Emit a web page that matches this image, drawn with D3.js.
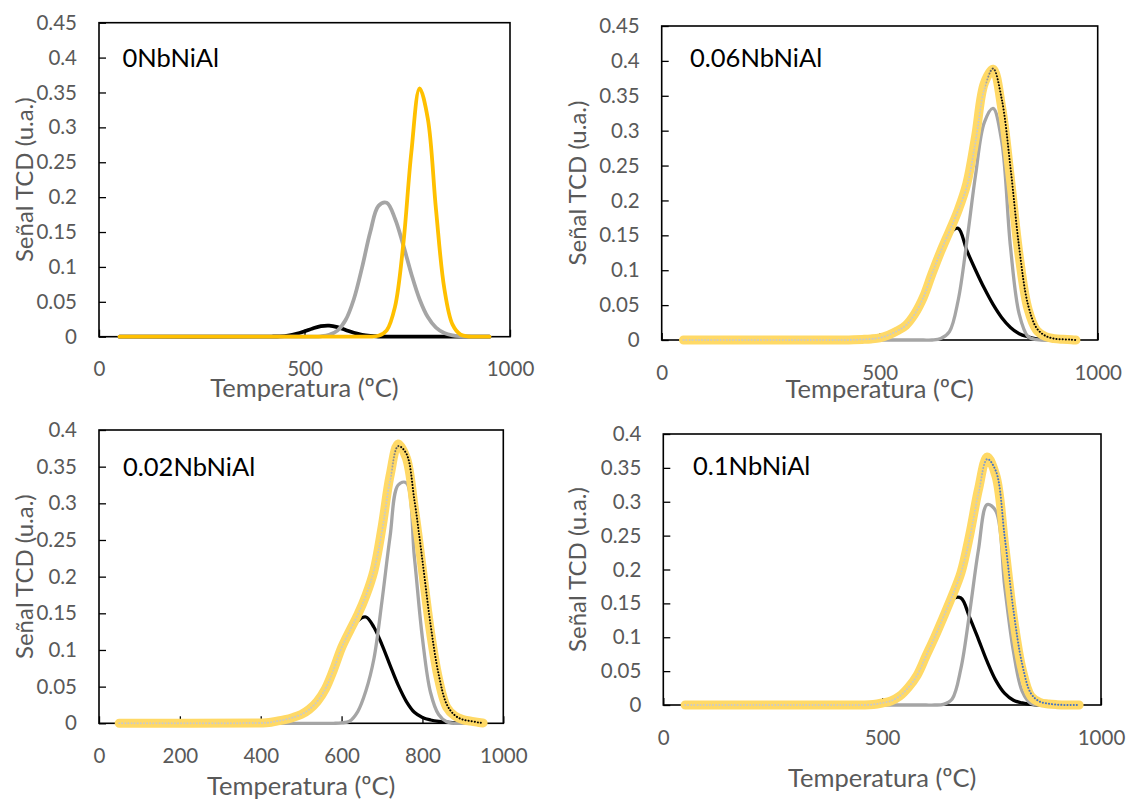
<!DOCTYPE html>
<html>
<head>
<meta charset="utf-8">
<script src="https://cdn.jsdelivr.net/npm/d3@7/dist/d3.min.js"></script>
<style>
  html, body { margin: 0; padding: 0; background: #ffffff; }
  svg { display: block; }
  text { font-family: Lato, "Open Sans", sans-serif; }
</style>
</head>
<body>
<svg id="chart" width="1127" height="800"></svg>
<script>
// Shared temperature grid (ºC)
const temperature = [50, 400, 420, 440, 460, 480, 500, 520, 540, 560, 580, 600, 620, 640, 660, 680,
                     700, 720, 740, 760, 780, 800, 820, 840, 860, 880, 900, 920, 940, 950];

// 0NbNiAl – deconvoluted TPR peaks
const nb0Black = [0, 0, 0.0002, 0.0006, 0.0017, 0.0040, 0.0076, 0.0118, 0.0151, 0.0159, 0.0137, 0.0097, 0.0056, 0.0027, 0.0011, 0.0003,
                  0, 0, 0, 0, 0, 0, 0, 0, 0, 0, 0, 0, 0, 0];
const nb0Gray  = [0, 0, 0, 0, 0, 0, 0, 0.0001, 0.0006, 0.0026, 0.0087, 0.0239, 0.0537, 0.0990, 0.1499, 0.1875,
                  0.1920, 0.1695, 0.1319, 0.0899, 0.0537, 0.0281, 0.0129, 0.0052, 0.0018, 0.0006, 0.0002, 0, 0, 0];
const nb0Gold  = [0, 0, 0, 0, 0, 0, 0, 0, 0, 0, 0, 0, 0, 0, 0.0001, 0.0013,
                  0.0091, 0.0424, 0.1304, 0.2645, 0.3560, 0.3125, 0.1819, 0.0698, 0.0177, 0.0030, 0.0003, 0, 0, 0];

// 0.06NbNiAl
const nb006Black = [0, 0, 0, 0.0002, 0.0005, 0.0012, 0.003, 0.007, 0.013, 0.021, 0.037, 0.061, 0.095, 0.126, 0.152, 0.160,
                    0.128, 0.100, 0.074, 0.051, 0.032, 0.018, 0.009, 0.0045, 0.0015, 0.0004, 0, 0, 0, 0];
const nb006Gray  = [0, 0, 0, 0, 0, 0, 0, 0, 0, 0, 0, 0, 0, 0.002, 0.012, 0.057,
                    0.142, 0.237, 0.312, 0.332, 0.284, 0.133, 0.037, 0.005, 0.0005, 0, 0, 0, 0, 0];
const nb006Sum   = [0, 0, 0, 0.0003, 0.0008, 0.0015, 0.003, 0.007, 0.013, 0.021, 0.037, 0.061, 0.095, 0.127, 0.156, 0.186,
                    0.2245, 0.292, 0.368, 0.388, 0.332, 0.230, 0.120, 0.045, 0.014, 0.005, 0.002, 0.001, 0.0005, 0];
const nb006Exp   = [0, 0, 0, 0.0003, 0.0008, 0.0015, 0.003, 0.007, 0.013, 0.021, 0.037, 0.061, 0.095, 0.127, 0.156, 0.186,
                    0.220, 0.285, 0.360, 0.389, 0.345, 0.247, 0.132, 0.051, 0.017, 0.006, 0.002, 0.001, 0.0005, 0];

// 0.02NbNiAl
const nb002Black = [0, 0.0005, 0.001, 0.003, 0.005, 0.008, 0.012, 0.019, 0.030, 0.047, 0.073, 0.102, 0.124, 0.140, 0.145, 0.131,
                    0.107, 0.079, 0.052, 0.030, 0.015, 0.008, 0.0045, 0.0025, 0.0015, 0.0005, 0, 0, 0, 0];
const nb002Gray  = [0, 0, 0, 0, 0, 0, 0, 0, 0, 0, 0, 0.0005, 0.003, 0.016, 0.044, 0.088,
                    0.167, 0.255, 0.325, 0.328, 0.227, 0.116, 0.042, 0.012, 0.002, 0, 0, 0, 0, 0];
const nb002Sum   = [0, 0.0005, 0.001, 0.003, 0.005, 0.008, 0.012, 0.019, 0.030, 0.047, 0.073, 0.103, 0.126, 0.148, 0.174, 0.208,
                    0.267, 0.338, 0.381, 0.362, 0.293, 0.209, 0.124, 0.060, 0.022, 0.010, 0.005, 0.003, 0.001, 0.0005];
const nb002Exp   = [0, 0.0005, 0.001, 0.003, 0.005, 0.008, 0.012, 0.019, 0.030, 0.047, 0.073, 0.103, 0.126, 0.148, 0.174, 0.208,
                    0.262, 0.332, 0.378, 0.368, 0.305, 0.222, 0.135, 0.067, 0.026, 0.011, 0.005, 0.003, 0.001, 0.0005];

// 0.1NbNiAl
const nb01Black = [0, 0, 0, 0, 0, 0.0008, 0.003, 0.006, 0.013, 0.026, 0.044, 0.072, 0.100, 0.129, 0.156, 0.158,
                   0.129, 0.097, 0.064, 0.036, 0.017, 0.007, 0.003, 0.001, 0, 0, 0, 0, 0, 0];
const nb01Gray  = [0, 0, 0, 0, 0, 0, 0, 0, 0, 0, 0, 0, 0, 0.001, 0.009, 0.054,
                   0.137, 0.229, 0.296, 0.286, 0.175, 0.079, 0.020, 0.002, 0, 0, 0, 0, 0, 0];
const nb01Sum   = [0, 0, 0, 0, 0, 0.0008, 0.003, 0.006, 0.013, 0.026, 0.044, 0.072, 0.100, 0.130, 0.161, 0.195,
                   0.251, 0.318, 0.366, 0.338, 0.235, 0.128, 0.052, 0.013, 0.004, 0.0015, 0.0005, 0, 0, 0];
const nb01Exp   = [0, 0, 0, 0, 0, 0.0008, 0.003, 0.006, 0.013, 0.026, 0.044, 0.072, 0.100, 0.130, 0.161, 0.195,
                   0.246, 0.313, 0.363, 0.345, 0.248, 0.140, 0.060, 0.017, 0.005, 0.002, 0.0006, 0, 0, 0];

// Axis ticks
const xTicksCoarse = [0, 500, 1000];
const xTicksFine   = [0, 200, 400, 600, 800, 1000];
const yTicks045    = [0, 0.05, 0.1, 0.15, 0.2, 0.25, 0.3, 0.35, 0.4, 0.45];
const yTicks040    = [0, 0.05, 0.1, 0.15, 0.2, 0.25, 0.3, 0.35, 0.4];

// Text
const sampleNames = ["0NbNiAl", "0.06NbNiAl", "0.02NbNiAl", "0.1NbNiAl"];
const xTitle = "Temperatura (ºC)";
const yTitle = "Señal TCD (u.a.)";

const GRAY_TEXT = "#595959";

const panels = [
  { name: sampleNames[0], box: [99, 510, 22.7, 336.7], yMax: 0.45, yTicks: yTicks045, xTicks: xTicksCoarse,
    labelPos: [122.5, 66.7], xTitleY: 387, yTitleX: 23,
    series: [
      { v: nb0Black, color: "#000000", w: 3.8 },
      { v: nb0Gray,  color: "#A5A5A5", w: 3.8 },
      { v: nb0Gold,  color: "#FFC000", w: 3.8 }
    ] },
  { name: sampleNames[1], box: [661.7, 1097.7, 26, 340], yMax: 0.45, yTicks: yTicks045, xTicks: xTicksCoarse,
    labelPos: [690, 66.7], xTitleY: 388, yTitleX: 576,
    series: [
      { v: nb006Black, color: "#000000", w: 3.3 },
      { v: nb006Gray,  color: "#A5A5A5", w: 3.3 },
      { v: nb006Sum,   color: "#FFD966", w: 9 },
      { v: nb006Exp,   color: "#000000", w: 2, dotted: true }
    ] },
  { name: sampleNames[2], box: [99, 503.3, 430, 723.3], yMax: 0.4, yTicks: yTicks040, xTicks: xTicksFine,
    labelPos: [123, 476], xTitleY: 784.5, yTitleX: 23,
    series: [
      { v: nb002Black, color: "#000000", w: 3.3 },
      { v: nb002Gray,  color: "#A5A5A5", w: 3.3 },
      { v: nb002Sum,   color: "#FFD966", w: 9 },
      { v: nb002Exp,   color: "#000000", w: 2, dotted: true }
    ] },
  { name: sampleNames[3], box: [663.3, 1101, 434, 705], yMax: 0.4, yTicks: yTicks040, xTicks: xTicksCoarse,
    labelPos: [693, 475], xTitleY: 776.7, yTitleX: 576,
    series: [
      { v: nb01Black, color: "#000000", w: 3.3 },
      { v: nb01Gray,  color: "#A5A5A5", w: 3.3 },
      { v: nb01Sum,   color: "#FFD966", w: 9 },
      { v: nb01Exp,   color: "#4472C4", w: 2, dotted: true }
    ] }
];

const svg = d3.select("#chart");
const defs = svg.append("defs");
const fmt = d => String(+d.toFixed(2));

panels.forEach((p, pi) => {
  const [left, right, top, bottom] = p.box;
  const x = d3.scaleLinear().domain([0, 1000]).range([left, right]);
  const y = d3.scaleLinear().domain([0, p.yMax]).range([bottom, top]);
  const g = svg.append("g");

  // Plot frame
  g.append("rect")
    .attr("x", left).attr("y", top)
    .attr("width", right - left).attr("height", bottom - top)
    .attr("fill", "none").attr("stroke", "#000").attr("stroke-width", 1.6);

  // Axes with inward ticks
  const yAxis = g.append("g")
    .attr("transform", `translate(${left},0)`)
    .call(d3.axisLeft(y).tickValues(p.yTicks).tickSize(-7).tickSizeOuter(0).tickPadding(22).tickFormat(fmt));
  const xAxis = g.append("g")
    .attr("transform", `translate(0,${bottom})`)
    .call(d3.axisBottom(x).tickValues(p.xTicks).tickSize(-7).tickSizeOuter(0).tickPadding(25).tickFormat(fmt));
  [yAxis, xAxis].forEach(a => {
    a.select(".domain").remove();
    a.selectAll(".tick line").attr("stroke", "#000").attr("stroke-width", 1.3);
    a.selectAll(".tick text")
      .attr("fill", GRAY_TEXT)
      .style("font-size", "20.5px")
      .style("font-family", "Lato, 'Open Sans', sans-serif");
  });

  // Curves
  const line = d3.line()
    .x((d, i) => x(temperature[i]))
    .y(d => y(d))
    .curve(d3.curveCatmullRom.alpha(0.5));

  p.series.forEach((s, si) => {
    let stroke = s.color;
    if (s.dotted) {
      // lighter dots on the rising flank, full colour on the falling flank
      const peakIdx = d3.maxIndex(s.v);
      const off = (x(temperature[peakIdx]) - left) / (right - left);
      const gid = `flank${pi}`;
      const grad = defs.append("linearGradient")
        .attr("id", gid).attr("gradientUnits", "userSpaceOnUse")
        .attr("x1", left).attr("x2", right).attr("y1", 0).attr("y2", 0);
      grad.append("stop").attr("offset", 0).attr("stop-color", "#c9c9c9");
      grad.append("stop").attr("offset", Math.max(0, off - 0.02)).attr("stop-color", "#c9c9c9");
      grad.append("stop").attr("offset", off + 0.01).attr("stop-color", s.color);
      grad.append("stop").attr("offset", 1).attr("stop-color", s.color);
      stroke = `url(#${gid})`;
    }
    g.append("path")
      .datum(s.v)
      .attr("d", line)
      .attr("fill", "none")
      .attr("stroke", stroke)
      .attr("stroke-width", s.w)
      .attr("stroke-linecap", "round")
      .attr("stroke-linejoin", "round")
      .attr("stroke-dasharray", s.dotted ? "0.1 3" : null);
  });

  // Sample name
  g.append("text")
    .attr("x", p.labelPos[0]).attr("y", p.labelPos[1])
    .attr("fill", "#000")
    .style("font-size", "25.5px")
    .text(p.name);

  // Axis titles
  g.append("text")
    .attr("x", (left + right) / 2).attr("y", p.xTitleY)
    .attr("text-anchor", "middle").attr("dominant-baseline", "central")
    .attr("fill", GRAY_TEXT)
    .style("font-size", "25.5px")
    .text(xTitle);

  g.append("text")
    .attr("transform", `translate(${p.yTitleX},${(top + bottom) / 2}) rotate(-90)`)
    .attr("text-anchor", "middle").attr("dominant-baseline", "central")
    .attr("fill", GRAY_TEXT)
    .style("font-size", "24px")
    .text(yTitle);
});
</script>
</body>
</html>
